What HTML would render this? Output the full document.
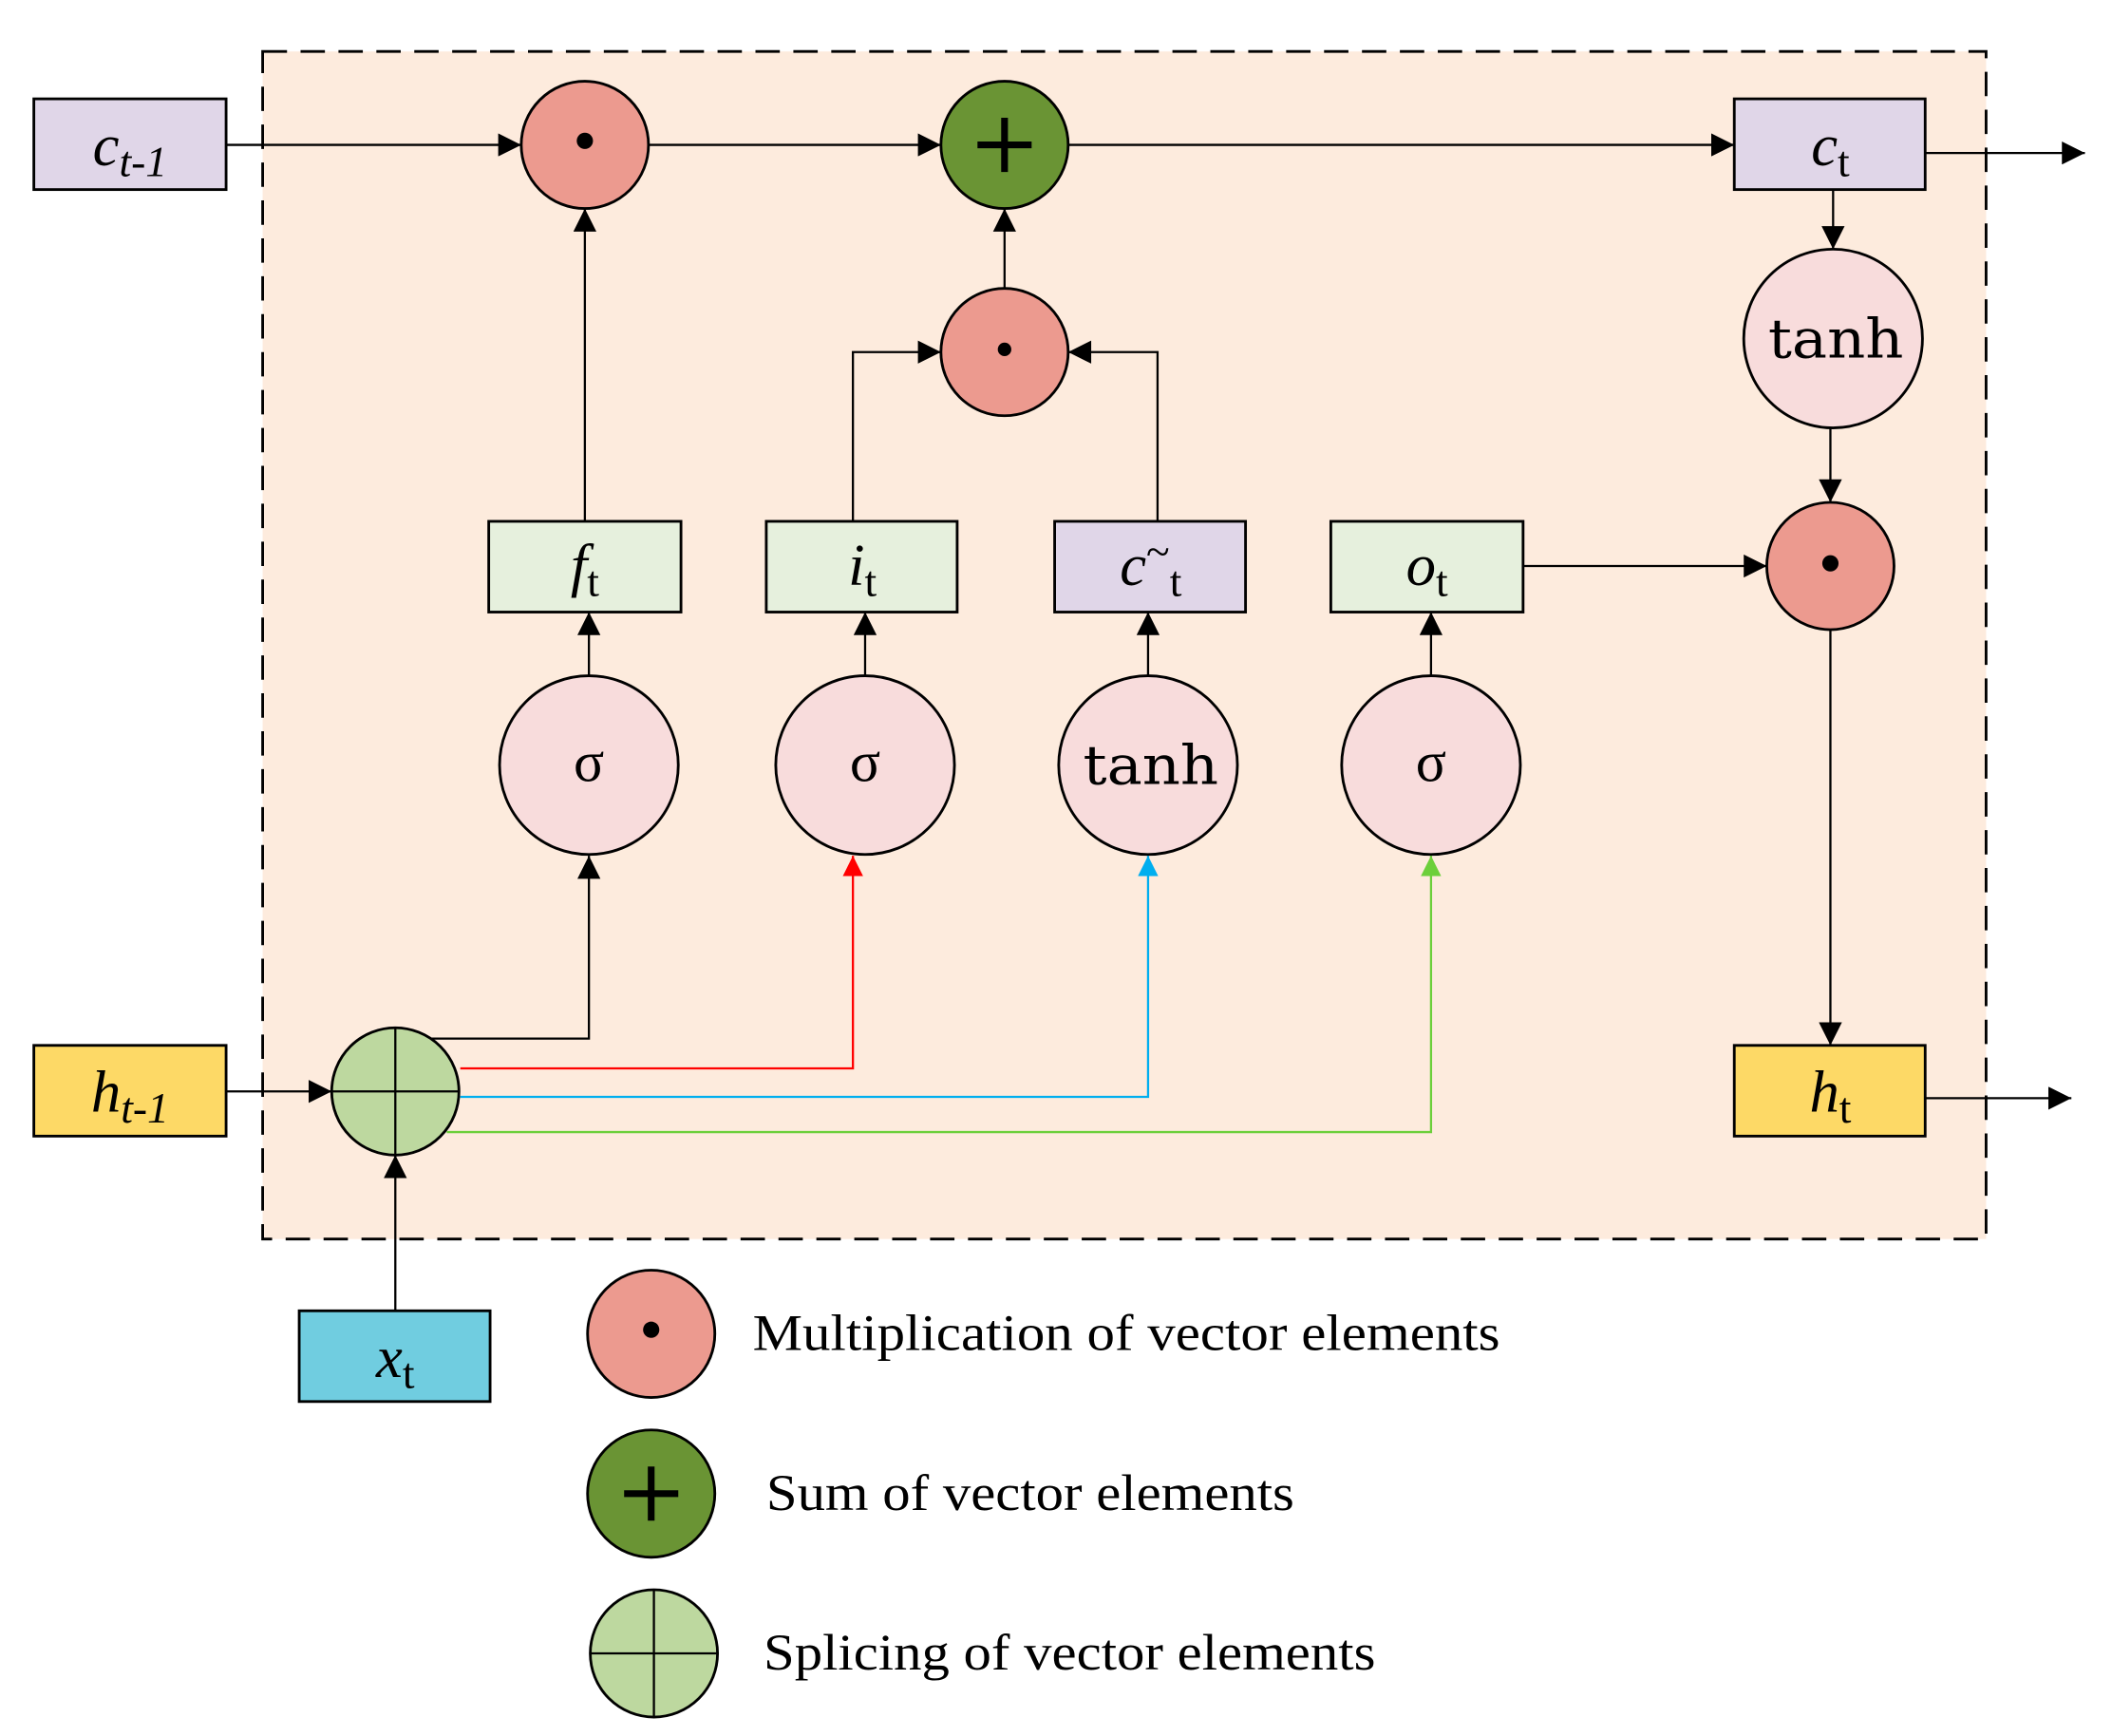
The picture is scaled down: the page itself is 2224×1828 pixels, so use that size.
<!DOCTYPE html>
<html><head><meta charset="utf-8"><style>html,body{margin:0;padding:0;background:#fff}svg{display:block}</style></head>
<body>
<svg width="2224" height="1828" viewBox="0 0 1560 1282" preserveAspectRatio="none" xmlns="http://www.w3.org/2000/svg" font-family="Liberation Serif, serif">
<defs>
<marker id="a" viewBox="0 0 10 10" refX="10" refY="5" markerWidth="24" markerHeight="17" markerUnits="userSpaceOnUse" orient="auto"><path d="M0,0L10,5L0,10z" fill="#000"/></marker>
<marker id="ar" viewBox="0 0 10 10" refX="10" refY="5" markerWidth="18" markerHeight="15" markerUnits="userSpaceOnUse" orient="auto"><path d="M0,0L10,5L0,10z" fill="#f00"/></marker>
<marker id="ab" viewBox="0 0 10 10" refX="10" refY="5" markerWidth="18" markerHeight="15" markerUnits="userSpaceOnUse" orient="auto"><path d="M0,0L10,5L0,10z" fill="#00aeef"/></marker>
<marker id="ag" viewBox="0 0 10 10" refX="10" refY="5" markerWidth="18" markerHeight="15" markerUnits="userSpaceOnUse" orient="auto"><path d="M0,0L10,5L0,10z" fill="#6ccf3a"/></marker>
</defs>
<rect x="194" y="38" width="1273" height="877" fill="#fdebdd" stroke="#000" stroke-width="2" stroke-dasharray="18,10"/>
<g stroke="#000" stroke-width="1.6" fill="none">
<path d="M167,107H385" marker-end="url(#a)"/>
<path d="M479,107H695" marker-end="url(#a)"/>
<path d="M789,107H1281" marker-end="url(#a)"/>
<path d="M1422,113H1540" marker-end="url(#a)"/>
<path d="M1422,811H1530" marker-end="url(#a)"/>
<path d="M432,385V154" marker-end="url(#a)"/>
<path d="M742,213V154" marker-end="url(#a)"/>
<path d="M630,385V260H695" marker-end="url(#a)"/>
<path d="M855,385V260H789" marker-end="url(#a)"/>
<path d="M435,499V452" marker-end="url(#a)"/>
<path d="M639,499V452" marker-end="url(#a)"/>
<path d="M848,499V452" marker-end="url(#a)"/>
<path d="M1057,499V452" marker-end="url(#a)"/>
<path d="M318,767H435V632" marker-end="url(#a)"/>
<path d="M340,789H630V632" stroke="#f00" marker-end="url(#ar)"/>
<path d="M340,810H848V632" stroke="#00aeef" marker-end="url(#ab)"/>
<path d="M330,836H1057V632" stroke="#6ccf3a" marker-end="url(#ag)"/>
<path d="M1354,140V184" marker-end="url(#a)"/>
<path d="M1352,316V371" marker-end="url(#a)"/>
<path d="M1125,418H1305" marker-end="url(#a)"/>
<path d="M1352,465V772" marker-end="url(#a)"/>
<path d="M167,806H245" marker-end="url(#a)"/>
<path d="M292,968V853" marker-end="url(#a)"/>
</g>
<g stroke="#000" stroke-width="2">
<rect x="25" y="73" width="142" height="67" fill="#e0d6e8"/>
<rect x="1281" y="73" width="141" height="67" fill="#e0d6e8"/>
<rect x="361" y="385" width="142" height="67" fill="#e6f0dd"/>
<rect x="566" y="385" width="141" height="67" fill="#e6f0dd"/>
<rect x="779" y="385" width="141" height="67" fill="#e0d6e8"/>
<rect x="983" y="385" width="142" height="67" fill="#e6f0dd"/>
<rect x="25" y="772" width="142" height="67" fill="#fdd966"/>
<rect x="1281" y="772" width="141" height="67" fill="#fdd966"/>
<rect x="221" y="968" width="141" height="67" fill="#70cde0"/>
<circle cx="432" cy="107" r="47" fill="#ec9a8f"/>
<circle cx="742" cy="107" r="47" fill="#6a9434"/>
<circle cx="742" cy="260" r="47" fill="#ec9a8f"/>
<circle cx="1352" cy="418" r="47" fill="#ec9a8f"/>
<circle cx="1354" cy="250" r="66" fill="#f8dcdc"/>
<circle cx="435" cy="565" r="66" fill="#f8dcdc"/>
<circle cx="639" cy="565" r="66" fill="#f8dcdc"/>
<circle cx="848" cy="565" r="66" fill="#f8dcdc"/>
<circle cx="1057" cy="565" r="66" fill="#f8dcdc"/>
<circle cx="292" cy="806" r="47" fill="#bdd89f"/>
<circle cx="481" cy="985" r="47" fill="#ec9a8f"/>
<circle cx="481" cy="1103" r="47" fill="#6a9434"/>
<circle cx="483" cy="1221" r="47" fill="#bdd89f"/>
</g>
<g fill="#000">
<circle cx="432" cy="104" r="6"/><circle cx="742" cy="258" r="5"/><circle cx="1352" cy="416" r="6"/><circle cx="481" cy="982" r="6"/>
</g>
<g stroke="#000" stroke-width="5"><path d="M722,107H762M742,87V127"/><path d="M461,1103H501M481,1083V1123"/></g>
<g stroke="#000" stroke-width="1.6"><path d="M245,806H339M292,759V853"/><path d="M436,1221H530M483,1174V1268"/></g>
<g font-size="44" text-anchor="middle">
<text x="96" y="122"><tspan font-style="italic">c</tspan><tspan font-style="italic" font-size="32" dy="8">t-1</tspan></text>
<text x="1352" y="122"><tspan font-style="italic">c</tspan><tspan font-size="32" dy="8">t</tspan></text>
<text x="432" y="432"><tspan font-style="italic">f</tspan><tspan font-size="32" dy="8">t</tspan></text>
<text x="637" y="432"><tspan font-style="italic">i</tspan><tspan font-size="32" dy="8">t</tspan></text>
<text x="850" y="432"><tspan font-style="italic">c</tspan><tspan font-size="32" dy="-14">~</tspan><tspan font-size="32" dy="22">t</tspan></text>
<text x="1054" y="432"><tspan font-style="italic">o</tspan><tspan font-size="32" dy="8">t</tspan></text>
<text x="96" y="821"><tspan font-style="italic">h</tspan><tspan font-style="italic" font-size="32" dy="8">t-1</tspan></text>
<text x="1352" y="821"><tspan font-style="italic">h</tspan><tspan font-size="32" dy="8">t</tspan></text>
<text x="292" y="1017"><tspan font-style="italic">x</tspan><tspan font-size="32" dy="8">t</tspan></text>
<text x="435" y="577" font-size="42">σ</text>
<text x="639" y="577" font-size="42">σ</text>
<text x="1057" y="577" font-size="42">σ</text>
<text x="850" y="579" font-size="40" font-family="DejaVu Serif, serif" textLength="100" lengthAdjust="spacingAndGlyphs">tanh</text>
<text x="1356" y="264" font-size="40" font-family="DejaVu Serif, serif" textLength="100" lengthAdjust="spacingAndGlyphs">tanh</text>
</g>
<g font-size="38">
<text x="556" y="997" textLength="552" lengthAdjust="spacingAndGlyphs">Multiplication of vector elements</text>
<text x="566" y="1115" textLength="390" lengthAdjust="spacingAndGlyphs">Sum of vector elements</text>
<text x="564" y="1233" textLength="452" lengthAdjust="spacingAndGlyphs">Splicing of vector elements</text>
</g>
</svg>
</body></html>
